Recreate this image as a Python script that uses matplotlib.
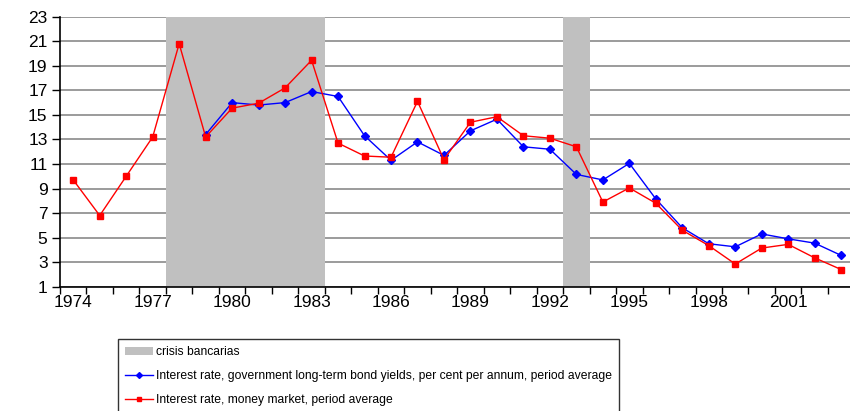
import numpy as np
import matplotlib
matplotlib.use('Agg')
import matplotlib.pyplot as plt
from matplotlib.patches import Patch
from matplotlib.lines import Line2D

plt.rcParams['font.family'] = ['Liberation Sans', 'DejaVu Sans']

# datos
years = list(range(1974, 2004))
bond_start = 1979
bond_yields = [13.4, 16.0, 15.8, 16.0, 16.9, 16.5, 13.3, 11.3, 12.8, 11.7,
               13.7, 14.65, 12.4, 12.2, 10.15, 9.7, 11.05, 8.15, 5.8, 4.5,
               4.25, 5.3, 4.9, 4.55, 3.55]
money_market = [9.7, 6.8, 10.0, 13.2, 20.8, 13.2, 15.55, 15.95, 17.2, 19.45,
                12.7, 11.65, 11.55, 16.1, 11.35, 14.4, 14.85, 13.3, 13.1, 12.4,
                7.9, 9.05, 7.8, 5.6, 4.35, 2.85, 4.15, 4.45, 3.35, 2.4]
crisis = [(1978, 1983), (1993, 1993)]
y_ticks = list(range(1, 24, 2))
x_labels = list(range(1974, 2002, 3))

fig = plt.figure(figsize=(8.5, 4.11), dpi=100)
ax = fig.add_axes([0.0706, 0.3024, 0.9346, 0.657])

idx = {y: i for i, y in enumerate(years)}
x_mm = np.array([idx[y] for y in years]) + 0.5
x_bd = np.array([idx[y] for y in years[years.index(bond_start):]]) + 0.5

for a, b in crisis:
    ax.axvspan(idx[a], idx[b] + 1, color='#c0c0c0', lw=0, zorder=1)

ax.plot(x_bd, bond_yields, color='#0000ff', lw=1.0, marker='D', ms=4.2,
        zorder=3)
ax.plot(x_mm, money_market, color='#ff0000', lw=1.0, marker='s', ms=4.5,
        zorder=4)

ax.set_xlim(0, len(years))
ax.set_ylim(1, 23)
ax.set_yticks(y_ticks)
ax.set_yticklabels([str(v) for v in y_ticks], fontsize=12.5)
ax.yaxis.grid(True, color='#8a8a8a', lw=1.2)
ax.set_axisbelow(True)

ax.set_xticks(np.arange(0, len(years) + 1))
ax.set_xticklabels([])
ax.set_xticks([idx[y] + 0.5 for y in x_labels], minor=True)
ax.set_xticklabels([str(y) for y in x_labels], minor=True, fontsize=12.5)
ax.tick_params(axis='x', which='major', direction='out', length=5, width=1)
ax.tick_params(axis='x', which='minor', length=0, pad=6)
ax.tick_params(axis='y', direction='out', length=6, width=1, pad=3)

for s in ['top', 'right']:
    ax.spines[s].set_visible(False)
for s in ['left', 'bottom']:
    ax.spines[s].set_linewidth(1.2)

handles = [
    Patch(facecolor='#c0c0c0', edgecolor='none'),
    Line2D([], [], color='#0000ff', lw=1.0, marker='D', ms=3),
    Line2D([], [], color='#ff0000', lw=1.0, marker='s', ms=3.5),
]
labels = ['crisis bancarias',
          'Interest rate, government long-term bond yields, per cent per annum, period average',
          'Interest rate, money market, period average']
leg = fig.legend(handles, labels, loc='upper left',
                 bbox_to_anchor=(118 / 850, 1 - 339 / 411), fontsize=8.7,
                 frameon=True, fancybox=False, edgecolor='black',
                 handlelength=2.3, handletextpad=0.25, labelspacing=0.98,
                 borderpad=0.6, borderaxespad=0)
leg.get_frame().set_linewidth(1.0)

fig.savefig('out.png', dpi=100)
